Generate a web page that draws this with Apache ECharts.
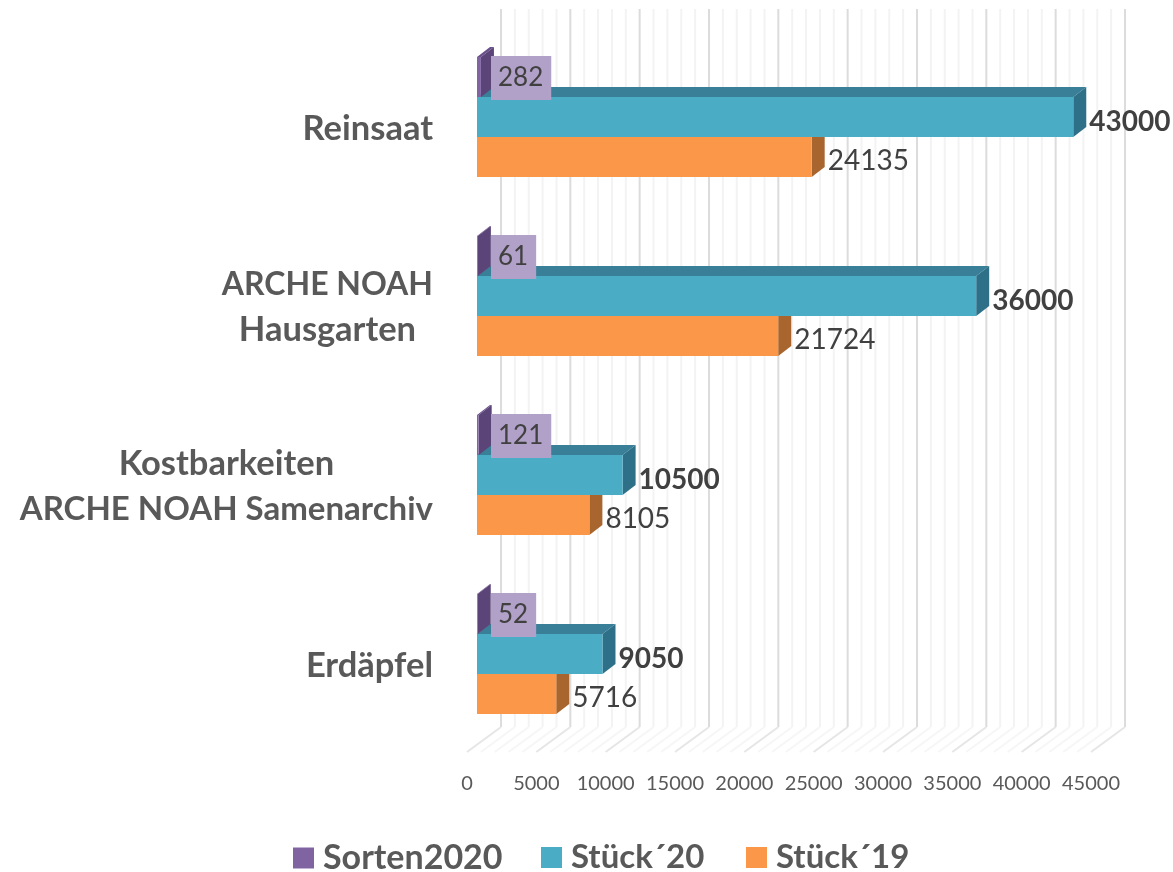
<!DOCTYPE html>
<html><head><meta charset="utf-8">
<style>html,body{margin:0;padding:0;background:#fff}#c{width:1173px;height:872px}</style>
<script src="https://cdn.jsdelivr.net/npm/echarts@6/dist/echarts.min.js"></script>
</head><body><div id="c"></div>
<script>
const categories = ['Reinsaat','ARCHE NOAH\nHausgarten','Kostbarkeiten\nARCHE NOAH Samenarchiv','Erdäpfel'];
const sorten2020 = [282,61,121,52];
const stueck20 = [43000,36000,10500,9050];
const stueck19 = [24135,21724,8105,5716];
const majorTicks = [0,5000,10000,15000,20000,25000,30000,35000,40000,45000];
const minorTicks = [1000,2000,3000,4000,6000,7000,8000,9000,11000,12000,13000,14000,16000,17000,18000,19000,21000,22000,23000,24000,26000,27000,28000,29000,31000,32000,33000,34000,36000,37000,38000,39000,41000,42000,43000,44000];

const F = 'Lato, Carlito, sans-serif';
const PLANE_DX = 10, PLANE_DY = -8.5;   // bars sit inside the floor depth
const DEPTH_X = 13, DEPTH_Y = 10, BAR_H = 40;
const WALL_DX = 34, WALL_DY = -25, WALL_TOP = 9;

function barRenderer(slot, c, label) {
  return function (params, api) {
    const v = api.value(0), idx = api.value(1);
    const p0 = api.coord([0, idx]), p1 = api.coord([v, idx]);
    const x0 = p0[0] + PLANE_DX, x1 = p1[0] + PLANE_DX;
    const yc = p0[1] + PLANE_DY + slot * BAR_H;
    const yt = yc - BAR_H / 2, yb = yc + BAR_H / 2;
    const children = [
      {type:'polygon',shape:{points:[[x0,yt],[x0+DEPTH_X,yt-DEPTH_Y],[x1+DEPTH_X,yt-DEPTH_Y],[x1,yt]]},style:{fill:c.top}},
      {type:'polygon',shape:{points:[[x1,yt],[x1+DEPTH_X,yt-DEPTH_Y],[x1+DEPTH_X,yb-DEPTH_Y],[x1,yb]]},style:{fill:c.side}},
      {type:'rect',shape:{x:x0,y:yt,width:x1-x0,height:BAR_H},style:{fill:c.front}}
    ];
    const t = String(v);
    if (label.box) {
      children.push({type:'text',x:x0+14,y:yc+1,style:{text:t,fill:'#404040',font:'26px '+F,align:'left',verticalAlign:'middle',
        backgroundColor:c.box,padding:[9,8,9,7]}});
    } else {
      children.push({type:'text',x:x1+DEPTH_X+3,y:yc+(label.bold?5:4),style:{text:t,fill:'#404040',font:(label.bold?'bold ':'')+'28px '+F,align:'left',verticalAlign:'middle'}});
    }
    return {type:'group',children};
  };
}
function gridRenderer(wallColor, floorColor) {
  return function (params, api) {
    const x = api.coord([api.value(0), 0])[0];
    const bottom = params.coordSys.y + params.coordSys.height;
    return {type:'group',silent:true,children:[
      {type:'line',shape:{x1:x+WALL_DX,y1:WALL_TOP,x2:x+WALL_DX,y2:bottom+WALL_DY},style:{stroke:wallColor,lineWidth:2}},
      {type:'line',shape:{x1:x+WALL_DX,y1:bottom+WALL_DY,x2:x,y2:bottom},style:{stroke:floorColor,lineWidth:2}}
    ]};
  };
}
function toData(vals){ return vals.map((v,i)=>[v,categories[i]]); }
const purple={front:'#8064a2',top:'#6a4f8c',side:'#5b4478',box:'#b1a0c7'};
const blue={front:'#4bacc6',top:'#3a7f98',side:'#2f7089'};
const orange={front:'#fb9748',top:'#b56e33',side:'#a8652d'};

const legendBase = {orient:'horizontal',top:841,padding:0,itemWidth:21,itemHeight:21,icon:'rect',
  textStyle:{fontFamily:F,fontWeight:'bold',fontSize:33,color:'#595959',padding:[0,0,0,4]}};
const labelStyle = size => ({fontFamily:F,fontWeight:'bold',fontSize:size,color:'#595959',align:'center',lineHeight:45});

const chart = echarts.init(document.getElementById('c'),null,{renderer:'canvas'});
chart.setOption({
  animation:false,
  backgroundColor:'#fff',
  legend:[
    Object.assign({},legendBase,{left:293,data:['Sorten2020'],textStyle:Object.assign({},legendBase.textStyle,{fontSize:34})}),
    Object.assign({},legendBase,{left:541,data:['Stück´20']}),
    Object.assign({},legendBase,{left:746,data:['Stück´19']})
  ],
  grid:{left:467,width:624,top:36,height:716,containLabel:false},
  xAxis:{type:'value',min:0,max:45000,interval:5000,
    axisLine:{show:false},axisTick:{show:false},splitLine:{show:false},
    axisLabel:{margin:22,fontFamily:F,fontSize:20,color:'#595959',formatter:v=>String(v)}},
  yAxis:{type:'category',inverse:true,data:categories,
    axisLine:{show:false},axisTick:{show:false},splitLine:{show:false},
    axisLabel:{margin:34,align:'right',padding:[6,0,0,0],
      formatter:s=>s.split('\n').map(l=>{
        const tag = l==='ARCHE NOAH' ? 'a' : l==='ARCHE NOAH Samenarchiv' ? 'b' : 'c';
        return '{'+tag+'|'+l+'}';
      }).join('\n'),
      rich:{a:labelStyle(32),b:labelStyle(33),c:labelStyle(34.5)}}},
  series:[
    {type:'custom',name:'minor',z:1,silent:true,renderItem:gridRenderer('#f3f3f3','#f6f6f6'),data:minorTicks.map(v=>[v,categories[0]]),encode:{x:0,y:1}},
    {type:'custom',name:'major',z:2,silent:true,renderItem:gridRenderer('#dcdcdc','#e6e6e6'),data:majorTicks.map(v=>[v,categories[0]]),encode:{x:0,y:1}},
    {type:'custom',name:'Stück´19',z:5,itemStyle:{color:orange.front},renderItem:barRenderer(1,orange,{bold:false}),data:toData(stueck19),encode:{x:0,y:1}},
    {type:'custom',name:'Stück´20',z:6,itemStyle:{color:blue.front},renderItem:barRenderer(0,blue,{bold:true}),data:toData(stueck20),encode:{x:0,y:1}},
    {type:'custom',name:'Sorten2020',z:7,itemStyle:{color:purple.front},renderItem:barRenderer(-1,purple,{box:true}),data:toData(sorten2020),encode:{x:0,y:1}}
  ]
});
</script></body></html>
